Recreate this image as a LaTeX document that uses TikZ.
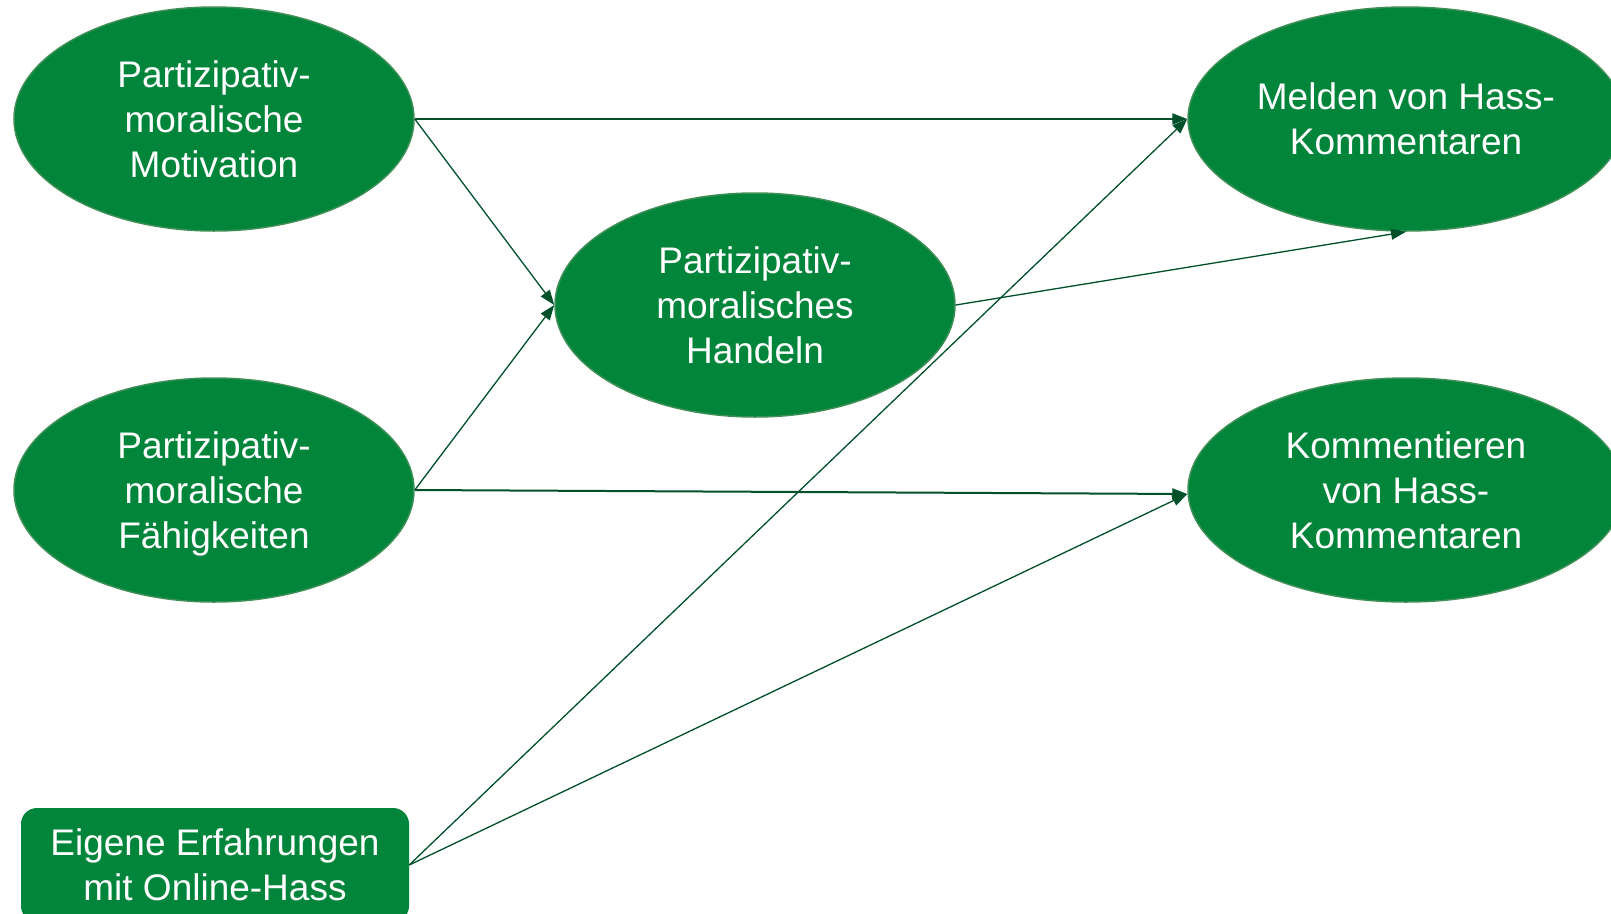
\documentclass[tikz,border=0pt]{standalone}
\usepackage{fontspec}
\setmainfont{Liberation Sans}
\usepackage{tikz}
\usetikzlibrary{arrows.meta,shapes.geometric,positioning}
\definecolor{fillgreen}{HTML}{00853A}
\definecolor{rimgreen}{HTML}{3E8F55}
\definecolor{arrowgreen}{HTML}{00502A}
\tikzstyle{construct} = [ellipse, minimum width=400pt, minimum height=224pt, inner sep=0pt, fill=fillgreen, draw=rimgreen, line width=1.5pt, text=white, align=center, text depth=0pt, font=\fontsize{37}{45}\selectfont]
\tikzstyle{manifest} = [rectangle, rounded corners=16pt, minimum width=388pt, minimum height=114pt, fill=fillgreen, text=white, align=center, font=\fontsize{37}{45}\selectfont]
\tikzstyle{arrow} = [draw=arrowgreen, line width=1.3pt, -{Triangle[length=15pt,width=11pt]}]
\tikzstyle{harrow} = [arrow, line width=2pt]

\begin{document}
\begin{tikzpicture}[x=1pt,y=-1pt]
                        \useasboundingbox (0,0) rectangle (1611,913);
                        \node [construct] (motivation) at (214,119) {Partizipativ-\\moralische\\Motivation};
                        \node [construct] (faehigkeiten) at (214,490) {Partizipativ-\\moralische\\F\"ahigkeiten};
                        \node [construct] (handeln) at (755,305) {Partizipativ-\\moralisches\\Handeln};
                        \node [construct, minimum width=436pt] (melden) at (1406,119) {Melden von Hass-\\Kommentaren};
                        \node [construct, minimum width=436pt] (kommentieren) at (1406,490) {Kommentieren\\von Hass-\\Kommentaren};
                        \node [manifest] (erfahrungen) at (215,865) {Eigene Erfahrungen\\mit Online-Hass};
                        \draw [harrow] (motivation.east) -- (melden.west);
                        \draw [arrow] (motivation.east) -- (handeln.west);
                        \draw [arrow] (faehigkeiten.east) -- (handeln.west);
                        \draw [harrow] (faehigkeiten.east) -- ([yshift=-4pt]kommentieren.west);
                        \draw [arrow] (handeln.east) -- (melden.south);
                        \draw [arrow] (erfahrungen.east) -- (melden.west);
                        \draw [arrow] (erfahrungen.east) -- ([yshift=-4pt]kommentieren.west);
                    \end{tikzpicture}
\end{document}
